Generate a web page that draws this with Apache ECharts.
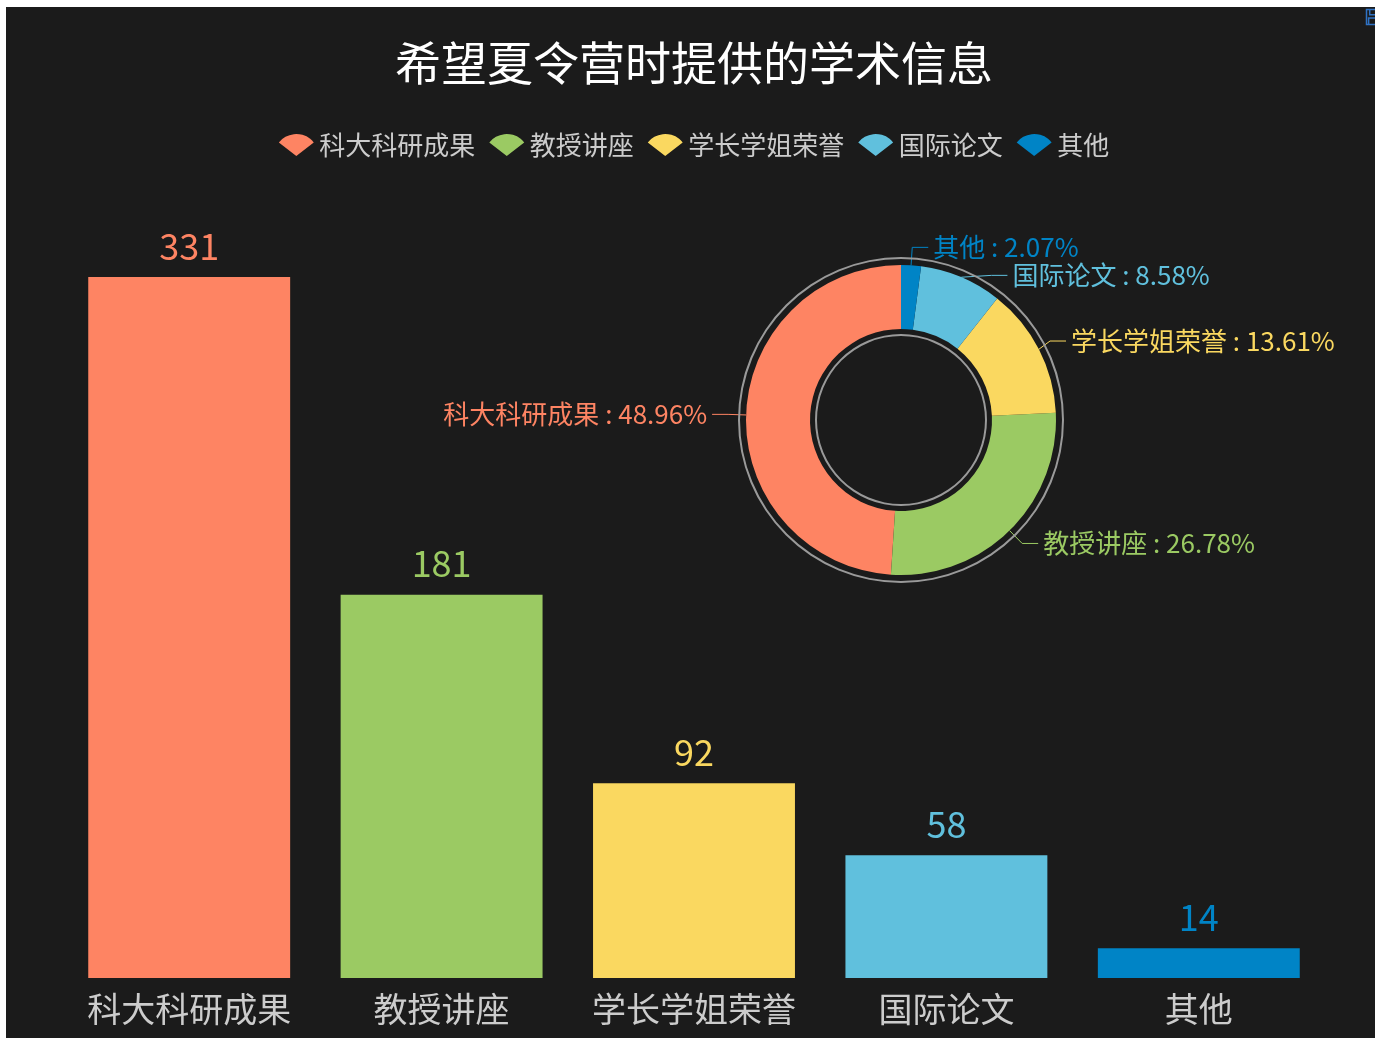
<!DOCTYPE html>
<html>
<head>
<meta charset="utf-8">
<script src="https://cdn.jsdelivr.net/npm/echarts@6/dist/echarts.min.js"></script>
<style>
  html, body { margin: 0; padding: 0; background: #fff; overflow: hidden; }
  #main { position: absolute; left: 6px; top: 7px; width: 1376px; height: 1031px; }
</style>
</head>
<body>
<div id="main"></div>
<script>
(function(){
  // 数据
  const categories = ['科大科研成果', '教授讲座', '学长学姐荣誉', '国际论文', '其他']
  const counts = [331, 181, 92, 58, 14]
  const colors = ['#FE8463', '#9BCA63', '#FAD860', '#60C0DD', '#0084C6']

  // 扇形图标
  const fanIcon = 'path://M0,0 L-18,-14 A23,23 0 0,1 18,-14 Z'
  // 保存图标（软盘）
  const saveIcon = 'path://M1,1 H12 L15,4 V15 H1 Z M4,1 V6 H11 V1 M3,9 H13 V15 H3 Z'

  const barData = counts.map((v, i) => ({
    value: v,
    itemStyle: { color: colors[i] },
    label: { color: colors[i] }
  }))
  const pieData = counts.map((v, i) => ({
    name: categories[i],
    value: v,
    itemStyle: { color: colors[i] },
    label: { color: colors[i] }
  }))

  const chart = echarts.init(document.getElementById('main'))
  const option = {
    backgroundColor: '#1b1b1b',
    textStyle: { fontFamily: 'Noto Sans CJK SC' },
    title: {
      text: '希望夏令营时提供的学术信息',
      left: 'center',
      top: 28,
      textStyle: { color: '#fff', fontSize: 46, fontWeight: 'normal' }
    },
    toolbox: {
      right: -17,
      top: -15,
      itemSize: 15,
      iconStyle: { borderColor: '#2f72c4', borderWidth: 1.5 },
      feature: { saveAsImage: { title: '保存', icon: saveIcon } }
    },
    legend: {
      data: categories.map(n => ({ name: n, icon: fanIcon })),
      top: 120,
      left: 'center',
      itemGap: 14,
      itemWidth: 36,
      itemHeight: 22,
      textStyle: { color: '#ccc', fontSize: 26 }
    },
    grid: { left: 57, right: 57, top: 270, bottom: 60 },
    xAxis: {
      type: 'category',
      data: categories,
      axisLine: { show: false },
      axisTick: { show: false },
      axisLabel: { color: '#ccc', fontSize: 34, margin: 14, interval: 0 }
    },
    yAxis: {
      type: 'value',
      min: 0,
      max: 'dataMax',
      show: false,
      splitLine: { show: false }
    },
    series: [
      {
        name: '学术信息',
        type: 'bar',
        barWidth: '80%',
        data: barData,
        label: { show: true, position: 'top', fontSize: 36, distance: 13 }
      },
      {
        name: '学术信息占比',
        type: 'pie',
        center: [895, 413],
        radius: [91, 155],
        clockwise: false,
        startAngle: 90,
        data: pieData,
        label: { formatter: '{b} : {d}%', fontSize: 26 },
        labelLine: { length: 18, length2: 16, lineStyle: { width: 1 } }
      },
      {
        name: '外圈',
        type: 'pie',
        silent: true,
        center: [895, 413],
        radius: [161, 163],
        label: { show: false },
        labelLine: { show: false },
        itemStyle: { color: '#9a9a9a' },
        data: [{ value: 1, name: '外圈' }]
      },
      {
        name: '内圈',
        type: 'pie',
        silent: true,
        center: [895, 413],
        radius: [84, 86],
        label: { show: false },
        labelLine: { show: false },
        itemStyle: { color: '#9a9a9a' },
        data: [{ value: 1, name: '内圈' }]
      }
    ]
  }
  chart.setOption(option)
  window.addEventListener('resize', () => {
    chart.resize()
  })
})()
</script>
</body>
</html>
